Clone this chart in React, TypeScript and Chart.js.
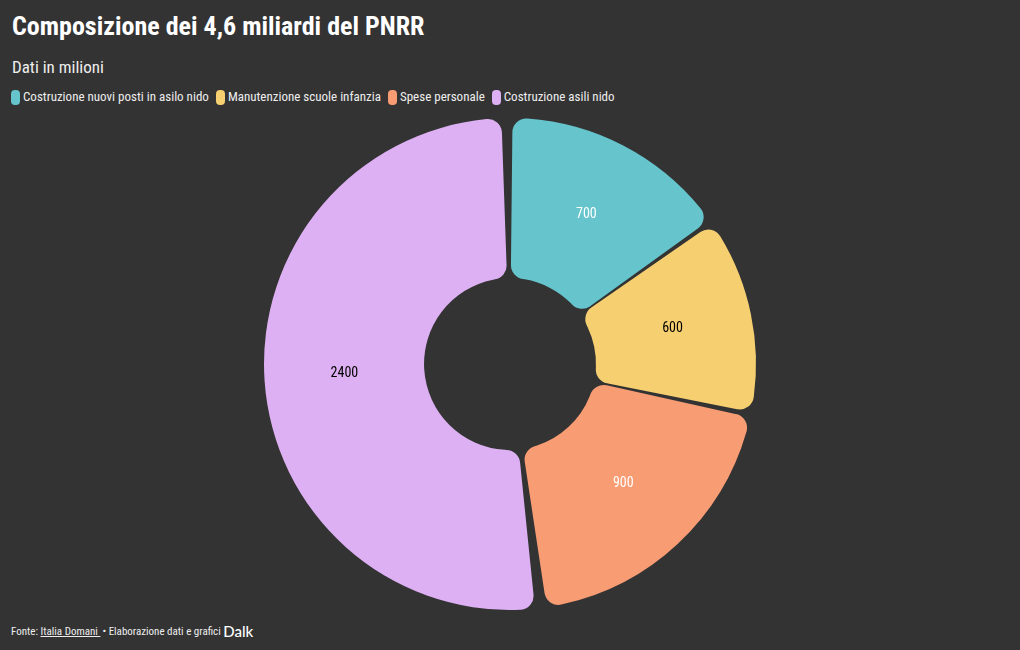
import React, { useEffect, useRef } from "react";
import { Chart, registerables } from "chart.js";

Chart.register(...registerables);

const titleText = "Composizione dei 4,6 miliardi del PNRR";
const subtitleText = "Dati in milioni";
const categories = [
  "Costruzione nuovi posti in asilo nido",
  "Manutenzione scuole infanzia",
  "Spese personale",
  "Costruzione asili nido",
];
const values = [700, 600, 900, 2400];
const colors = ["#66C5CC", "#F6CF71", "#F89C74", "#DCB0F2"];
const labelColors = ["#ffffff", "#000000", "#ffffff", "#000000"];

const FONT = '"Roboto Condensed", "Liberation Sans Narrow", "Arial Narrow", "DejaVu Sans Condensed", Roboto, sans-serif';

const valueLabels = {
  id: "valueLabels",
  afterDatasetsDraw(chart: any) {
    const ctx = chart.ctx;
    const meta = chart.getDatasetMeta(0);
    ctx.save();
    ctx.font = `14px ${FONT}`;
    ctx.textAlign = "center";
    ctx.textBaseline = "middle";
    meta.data.forEach((arc: any, i: number) => {
      const p = arc.tooltipPosition();
      ctx.fillStyle = labelColors[i];
      ctx.fillText(String(values[i]), p.x, p.y - 2);
    });
    ctx.restore();
  },
};

export default function App() {
  const ref = useRef<HTMLCanvasElement>(null);
  useEffect(() => {
    document.body.style.margin = "0";
    document.body.style.background = "#333333";
    const chart = new Chart(ref.current!, {
      type: "doughnut",
      data: {
        labels: categories,
        datasets: [
          {
            data: values,
            backgroundColor: colors,
            borderWidth: 0,
            borderRadius: 14,
            spacing: 7,
          },
        ],
      },
      options: {
        animation: false,
        responsive: false,
        cutout: "34%",
        layout: { padding: 0 },
        plugins: {
          legend: { display: false },
          title: { display: false },
          tooltip: { enabled: false },
        },
      },
      plugins: [valueLabels],
    });
    return () => chart.destroy();
  }, []);

  return (
    <div
      style={{
        position: "absolute",
        left: 0,
        top: 0,
        width: 1020,
        height: 650,
        background: "#333333",
        fontFamily: FONT,
        color: "#ffffff",
        overflow: "hidden",
      }}
    >
      <div
        style={{
          position: "absolute",
          left: 12,
          top: 8,
          fontSize: 26,
          fontWeight: 700,
          lineHeight: "36px",
          whiteSpace: "nowrap",
        }}
      >
        {titleText}
      </div>
      <div
        style={{
          position: "absolute",
          left: 12,
          top: 56,
          fontSize: 17,
          lineHeight: "22px",
          color: "#eeeeee",
          whiteSpace: "nowrap",
        }}
      >
        {subtitleText}
      </div>
      <div
        style={{
          position: "absolute",
          left: 11,
          top: 89,
          display: "flex",
          alignItems: "center",
          fontSize: 13,
          lineHeight: "16px",
          color: "#eeeeee",
          whiteSpace: "nowrap",
        }}
      >
        {categories.map((c, i) => (
          <div key={c} style={{ display: "flex", alignItems: "center", marginRight: 7 }}>
            <span
              style={{
                display: "inline-block",
                width: 9,
                height: 15,
                borderRadius: 4,
                background: colors[i],
                marginRight: 3,
              }}
            />
            <span>{c}</span>
          </div>
        ))}
      </div>
      <canvas
        ref={ref}
        width={1020}
        height={492}
        style={{ position: "absolute", left: 0, top: 118, width: 1020, height: 492 }}
      />
      <div
        style={{
          position: "absolute",
          left: 11,
          top: 624,
          fontSize: 11,
          lineHeight: "16px",
          color: "#eeeeee",
          whiteSpace: "nowrap",
          display: "flex",
          alignItems: "center",
        }}
      >
        <span>Fonte:&nbsp;</span>
        <span style={{ textDecoration: "underline" }}>Italia Domani&nbsp;</span>
        <span style={{ marginLeft: 2 }}>•&nbsp;Elaborazione dati e grafici&nbsp;</span>
        <span style={{ fontFamily: "Lato, 'Open Sans', sans-serif", fontSize: 15, fontWeight: 500, color: "#ffffff", marginTop: -3 }}>Dalk</span>
      </div>
    </div>
  );
}
